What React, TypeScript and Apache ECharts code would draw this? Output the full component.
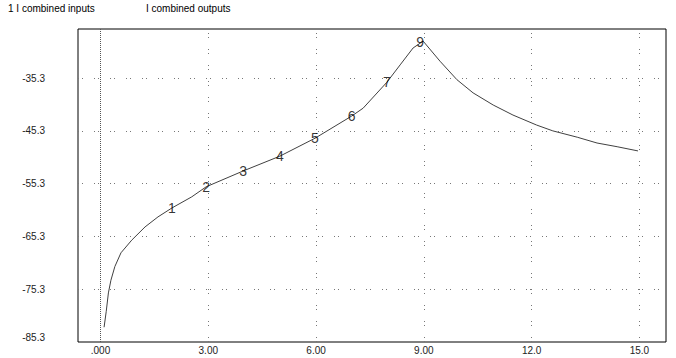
import React, { useEffect, useRef } from "react";
import * as echarts from "echarts";

const curveX = [0.1, 0.16, 0.22, 0.29, 0.4, 0.57, 0.87, 1.24, 1.6, 1.99, 2.54, 2.94, 3.97, 4.99, 5.97, 6.99, 7.31, 7.97, 8.34, 8.7, 8.98, 9.45, 9.92, 10.37, 10.93, 11.48, 12.14, 12.59, 13.27, 13.82, 14.38, 14.96];
const curveY = [-82.5, -79.5, -76.0, -73.6, -71.0, -68.4, -66.0, -63.5, -61.6, -59.9, -57.8, -55.9, -52.9, -50.1, -46.7, -42.5, -41.0, -36.1, -32.8, -29.6, -28.3, -32.1, -35.6, -38.1, -40.4, -42.3, -44.2, -45.3, -46.5, -47.6, -48.3, -49.1];

const markerX = [1.99, 2.94, 3.97, 4.99, 5.97, 6.99, 7.97, 8.9];
const markerY = [-59.9, -55.9, -52.9, -50.1, -46.7, -42.5, -36.1, -28.5];
const markerNames = ["1", "2", "3", "4", "5", "6", "7", "9"];

const xTickValues = [0, 3, 6, 9, 12, 15];
const xTickLabels = [".000", "3.00", "6.00", "9.00", "12.0", "15.0"];
const yTickValues = [-85.3, -75.3, -65.3, -55.3, -45.3, -35.3];
const yTickLabels = ["-85.3", "-75.3", "-65.3", "-55.3", "-45.3", "-35.3"];
const xGridValues = [3, 6, 9, 12, 15];
const yGridValues = [-75.3, -65.3, -55.3, -45.3, -35.3];

const legendTexts = ["1 I combined inputs", "I combined outputs"];

const FONT = "Liberation Sans, Arial, sans-serif";

function lookup(values: number[], labels: string[], v: number): string {
  const i = values.findIndex((t) => Math.abs(t - v) < 1e-6);
  return i >= 0 ? labels[i] : "";
}

export default function App() {
  const ref = useRef<HTMLDivElement>(null);
  useEffect(() => {
    if (!ref.current) return;
    const chart = echarts.init(ref.current, null, { renderer: "svg" });
    const gridDot = { color: "#777", width: 1, type: [1, 3, 1, 11] as any };
    const option: any = {
      animation: false,
      backgroundColor: "#fff",
      grid: {
        left: 78,
        top: 29,
        right: 10,
        bottom: 16,
        show: true,
        borderColor: "#000",
        borderWidth: 1,
        backgroundColor: "#fff",
      },
      graphic: [
        { type: "text", left: 8, top: 3, style: { text: legendTexts[0], fontSize: 10, fontFamily: FONT, fill: "#000" } },
        { type: "text", left: 146, top: 3, style: { text: legendTexts[1], fontSize: 10, fontFamily: FONT, fill: "#000" } },
      ],
      xAxis: {
        type: "value",
        min: -0.626,
        max: 15.74,
        axisLine: { show: false },
        axisTick: { show: false },
        splitLine: { show: false },
        axisLabel: {
          customValues: xTickValues,
          formatter: (v: number) => lookup(xTickValues, xTickLabels, v),
          margin: 3,
          fontSize: 10,
          fontFamily: FONT,
          color: "#222",
        },
      },
      yAxis: {
        type: "value",
        min: -85.3,
        max: -26.0,
        axisLine: { show: false },
        axisTick: { show: false },
        splitLine: { show: false },
        axisLabel: {
          customValues: yTickValues,
          formatter: (v: number) => lookup(yTickValues, yTickLabels, v),
          margin: 33,
          fontSize: 10,
          fontFamily: FONT,
          color: "#222",
          verticalAlignMinLabel: "bottom",
        },
      },
      series: [
        {
          type: "line",
          data: curveX.map((x, i) => [x, curveY[i]]),
          showSymbol: false,
          symbol: "none",
          lineStyle: { color: "#404040", width: 1 },
          z: 3,
          markLine: {
            silent: true,
            symbol: ["none", "none"],
            label: { show: false },
            animation: false,
            data: [
              { xAxis: 0, lineStyle: { color: "#555", width: 1, type: [1, 1] } },
              ...xGridValues.map((v) => ({ xAxis: v, lineStyle: gridDot })),
              ...yGridValues.map((v) => ({ yAxis: v, lineStyle: gridDot })),
            ],
          },
        },
        {
          type: "scatter",
          data: markerX.map((x, i) => [x, markerY[i]]),
          symbolSize: 1,
          itemStyle: { color: "rgba(0,0,0,0)" },
          z: 5,
          label: {
            show: true,
            position: "inside",
            formatter: (p: any) => markerNames[p.dataIndex],
            fontSize: 14,
            fontFamily: FONT,
            color: "#000",
          },
        },
      ],
    };
    chart.setOption(option);
    return () => chart.dispose();
  }, []);
  return <div ref={ref} style={{ position: "absolute", left: 0, top: 0, width: 676, height: 358 }} />;
}
